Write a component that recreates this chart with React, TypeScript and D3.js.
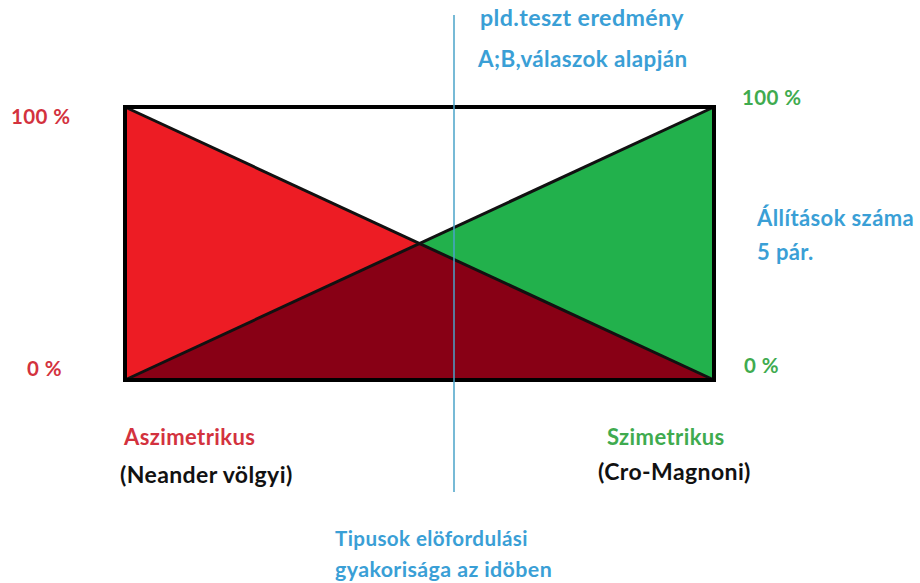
import React, { useRef, useEffect } from 'react';
import * as d3 from 'd3';

// time axis (0 = start, 1 = end) and share of each type in %
const timeSteps = [0, 1];
const asymValues = [100, 0]; // Aszimetrikus (Neander völgyi)
const symValues = [0, 100]; // Szimetrikus (Cro-Magnoni)
const leftTicks = ['100 %', '0 %'];
const rightTicks = ['100 %', '0 %'];

const W = 920;
const H = 583;
const font = 'Lato, "Open Sans", sans-serif';

const App = () => {
    const svgRef = useRef(null);

    useEffect(() => {
        const svg = d3.select(svgRef.current);
        svg.selectAll('*').remove();

        const box = { left: 125, right: 714, top: 107, bottom: 380 };

        const x = d3.scaleLinear().domain([0, 1]).range([box.left, box.right]);
        const y = d3.scaleLinear().domain([0, 100]).range([box.bottom, box.top]);

        const asym = timeSteps.map((t, i) => ({ t, v: asymValues[i] }));
        const sym = timeSteps.map((t, i) => ({ t, v: symValues[i] }));

        const area = d3.area()
            .x(d => x(d.t))
            .y0(y(0))
            .y1(d => y(d.v));
        const line = d3.line()
            .x(d => x(d.t))
            .y(d => y(d.v));

        // clip for the overlap
        svg.append('defs').append('clipPath')
            .attr('id', 'symClip')
            .append('path')
            .attr('d', area(sym));

        svg.append('path').attr('d', area(asym)).attr('fill', '#ed1c24');
        svg.append('path').attr('d', area(sym)).attr('fill', '#22b14c');
        svg.append('path')
            .attr('d', area(asym))
            .attr('fill', '#880015')
            .attr('clip-path', 'url(#symClip)');

        svg.append('path').attr('d', line(asym)).attr('fill', 'none')
            .attr('stroke', '#111').attr('stroke-width', 3);
        svg.append('path').attr('d', line(sym)).attr('fill', 'none')
            .attr('stroke', '#111').attr('stroke-width', 3);

        svg.append('rect')
            .attr('x', box.left).attr('y', box.top)
            .attr('width', box.right - box.left)
            .attr('height', box.bottom - box.top)
            .attr('fill', 'none')
            .attr('stroke', '#000')
            .attr('stroke-width', 4);

        // vertical marker line
        svg.append('line')
            .attr('x1', 454).attr('x2', 454)
            .attr('y1', 15).attr('y2', 492)
            .attr('stroke', '#4aa3c8')
            .attr('stroke-width', 1.5);

        const label = (txt, lx, ly, color, size = 22) =>
            svg.append('text')
                .attr('x', lx).attr('y', ly)
                .attr('fill', color)
                .attr('font-family', font)
                .attr('font-weight', 'bold')
                .attr('font-size', size)
                .attr('letter-spacing', 0.4)
                .attr('dominant-baseline', 'middle')
                .text(txt);

        // left scale (red)
        label(leftTicks[0], 11, y(100) + 12, '#d3323e', 20.5);
        label(leftTicks[1], 27, y(0) - 9, '#d3323e', 20.5);
        // right scale (green)
        label(rightTicks[0], 742, y(100) - 7, '#3fab4f', 20.5);
        label(rightTicks[1], 744, y(0) - 12, '#3fab4f', 20.5);

        const blue = '#3a9fd6';
        label('pld.teszt eredmény', 480, 20, blue, 23.2);
        label('A;B,válaszok alapján', 478, 61, blue, 22.4);
        label('Állítások száma', 757, 220, blue);
        label('5 pár.', 757, 254, blue);

        label('Aszimetrikus', 124, 439, '#d3323e');
        label('(Neander völgyi)', 120, 477, '#111', 23);
        label('Szimetrikus', 607, 439, '#3fab4f');
        label('(Cro-Magnoni)', 598, 474, '#111', 23);

        label('Tipusok elöfordulási', 335, 541, blue, 20.6);
        label('gyakorisága az idöben', 335, 572, blue, 21.4);
    }, []);

    return (
        <svg ref={svgRef} width={W} height={H}
            style={{ position: 'absolute', left: 0, top: 0, background: '#fff' }} />
    );
};

export default App;
